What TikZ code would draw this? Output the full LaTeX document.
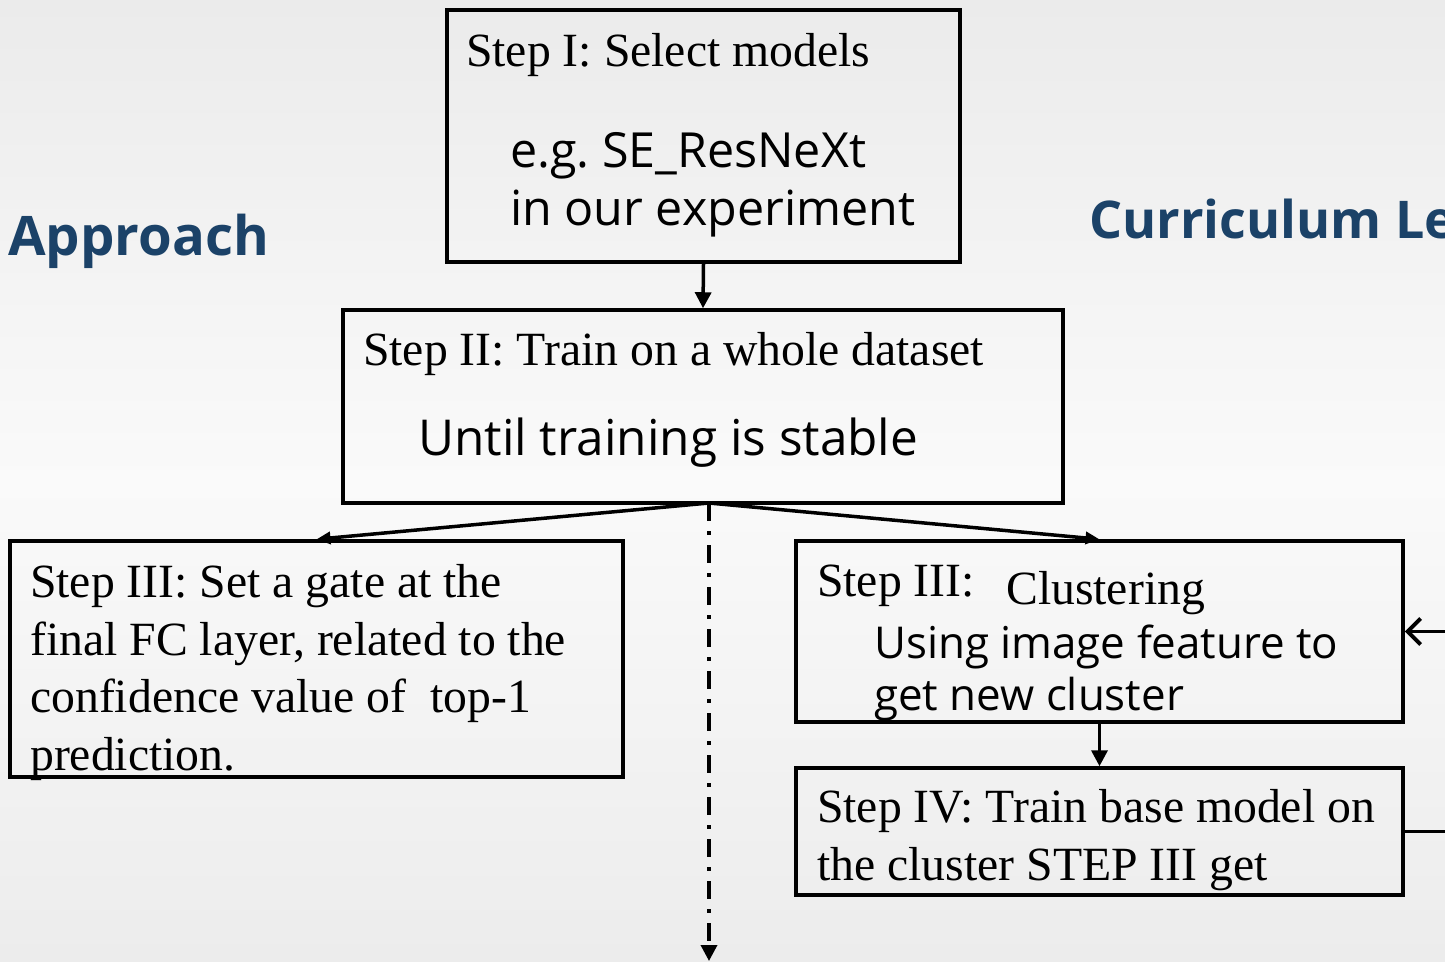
\documentclass[tikz,border=0pt]{standalone}
\usepackage{fontspec}
\setmainfont{Liberation Serif}
\newfontfamily\uisans{Open Sans}
\usetikzlibrary{arrows.meta}

\definecolor{titleblue}{RGB}{27,66,104}
\definecolor{bgtop}{RGB}{235,235,235}
\definecolor{bgmid}{RGB}{250,250,250}
\definecolor{bgbot}{RGB}{236,236,236}

\begin{document}
\begin{tikzpicture}[x=1pt, y=-1pt,
    stepbox/.style={draw, line width=3.5pt, inner sep=0pt},
    serif_text/.style={anchor=base west, align=left, inner sep=0pt,
      font=\fontsize{47.7}{57.4}\selectfont},
    sans_text/.style={anchor=base west, align=left, inner sep=0pt},
    title_text/.style={anchor=base west, inner sep=0pt, text=titleblue,
      font=\uisans\bfseries\fontsize{54.5}{60}\selectfont},
    flow/.style={line width=3.5pt, -{Triangle[length=16pt, width=16pt]}},
    ]

    % --- Background ---
    \useasboundingbox (0,0) rectangle (1445,961);
    \clip (0,0) rectangle (1445,961);
    \shade[top color=bgtop, bottom color=bgmid] (0,0) rectangle (1445,481);
    \shade[top color=bgmid, bottom color=bgbot] (0,480) rectangle (1445,961);

    % --- Titles ---
    \node[title_text] (approach) at (8,255) {Approach};
    \node[title_text, font=\uisans\bfseries\fontsize{52}{60}\selectfont] (curric) at (1089,238) {Curriculum Le};

    % --- Boxes ---
    \node[stepbox, minimum width=513pt, minimum height=252pt] (select) at (703.5,136) {};
    \node[stepbox, minimum width=720pt, minimum height=193pt] (train) at (703,406.5) {};
    \node[stepbox, minimum width=613pt, minimum height=236pt] (gate) at (316.5,659) {};
    \node[stepbox, minimum width=607pt, minimum height=181pt] (cluster) at (1099.5,631.5) {};
    \node[stepbox, minimum width=607pt, minimum height=127pt] (base) at (1099.5,831.5) {};

    % --- Step I ---
    \node[serif_text] (selecthead) at (466,66) {Step I: Select models};
    \node[sans_text, font=\uisans\fontsize{48.4}{58}\selectfont] (selectbody) at (510,225) {
      e.g.\ SE\_ResNeXt \\
      in our experiment
    };

    % --- Step II ---
    \node[serif_text] (trainhead) at (363,365) {Step II: Train on a whole dataset};
    \node[sans_text, font=\uisans\fontsize{49.5}{58}\selectfont] (trainbody) at (418,455) {Until training is stable};

    % --- Step III (gate) ---
    \node[serif_text] (gatetext) at (30,770) {
      Step III: Set a gate at the \\
      final FC layer, related to the \\
      confidence value of \ top-1 \\
      prediction.
    };

    % --- Step III (clustering) ---
    \node[serif_text] (clusterhead) at (817,596) {Step III:};
    \node[serif_text] (clustername) at (1006,604) {Clustering};
    \node[sans_text, font=\uisans\fontsize{43.9}{52}\selectfont] (clusterbody) at (874,710) {
      Using image feature to \\
      get new cluster
    };

    % --- Step IV ---
    \node[serif_text] (basetext) at (817,880) {
      Step IV: Train base model on \\
      the cluster STEP III get
    };

    % --- Connectors ---
    \coordinate (fork) at (709,503);
    \coordinate (down) at (709,961);
    \coordinate (loopin) at (1460,631.5);
    \coordinate (loopout) at (1460,831.5);

    \draw[flow] (select.south) -- (train.north);
    \draw[line width=3.5pt, -{Triangle[length=14pt, width=12pt]}] (fork) -- (gate.north);
    \draw[line width=3.5pt, -{Triangle[length=14pt, width=12pt]}] (fork) -- (cluster.north);
    \draw[flow, dash pattern=on 18pt off 10pt on 4pt off 10pt] (fork) -- (down);
    \draw[flow] (cluster.south) -- (base.north);
    \draw[line width=3.5pt, -{Straight Barb[length=13pt, width=26pt, line width=4pt]}] (loopin) -- (cluster.east);
    \draw[line width=3.5pt] (base.east) -- (loopout);

  \end{tikzpicture}
\end{document}
